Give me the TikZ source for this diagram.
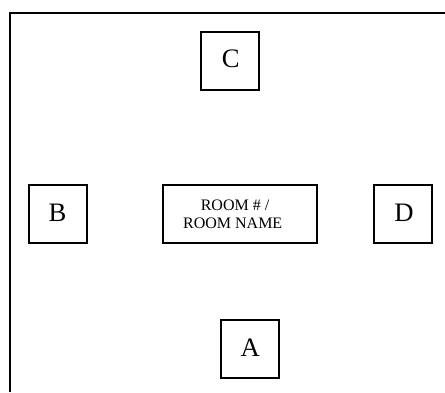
\documentclass[tikz,border=0pt]{standalone}
\usepackage{fontspec}
\setmainfont{Liberation Serif}
\begin{document}
\begin{tikzpicture}[x=0.75pt,y=-0.75pt,
  box/.style={draw=black,line width=1.5pt,minimum width=43.5pt,minimum height=43.5pt,inner sep=0pt},
  roombox/.style={draw=black,line width=1.5pt,minimum width=115.5pt,minimum height=43.5pt,inner sep=0pt},
  letter/.style={inner sep=0pt,font=\fontsize{20}{24}\selectfont},
  roomtext/.style={inner sep=0pt,font=\fontsize{12}{14}\selectfont}]
\useasboundingbox (0,0) rectangle (445,392);
\coordinate (wallb) at (10,392);
\coordinate (wallc) at (10,13);
\coordinate (wallr) at (445,13);
\draw[line width=1.5pt,line join=miter] (wallb) -- (wallc) -- (wallr);
\node[box] (C) at (230,61) {};
\node[box] (B) at (58,214) {};
\node[box] (D) at (403,214) {};
\node[box] (A) at (250,349) {};
\node[roombox] (room) at (240,214) {};
\node[letter] (tc) at (230.8,58.5) {C};
\node[letter] (tb) at (57.5,212.5) {B};
\node[letter] (td) at (404,212.5) {D};
\node[letter] (ta) at (250.3,347.5) {A};
\node[roomtext] (l1) at (235,205) {ROOM \# /};
\node[roomtext] (l2) at (232.7,223.5) {ROOM NAME};
\end{tikzpicture}
\end{document}
